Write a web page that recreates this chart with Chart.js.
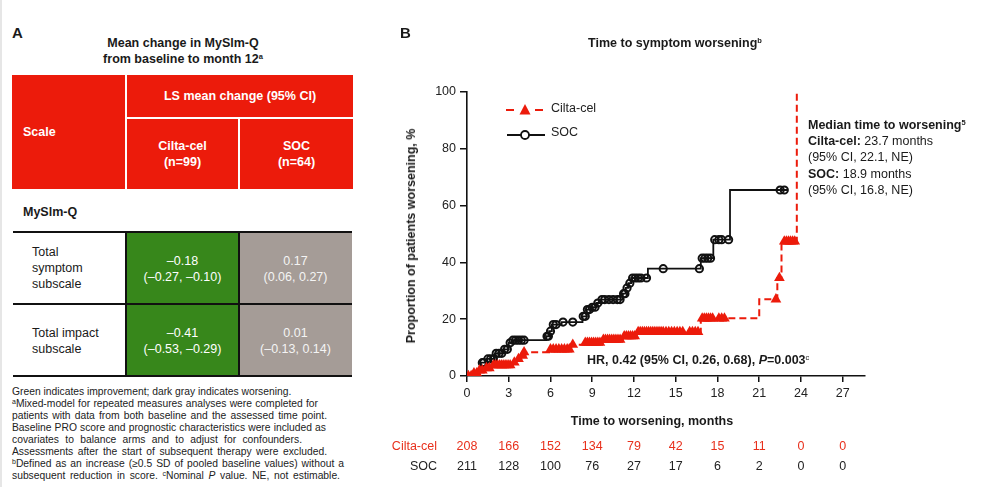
<!DOCTYPE html>
<html>
<head>
<meta charset="utf-8">
<script src="https://cdn.jsdelivr.net/npm/chart.js@4.4.1/dist/chart.umd.min.js"></script>
<style>
  body { margin: 0; width: 984px; height: 487px; overflow: hidden; background: #fff; position: relative;
         font-family: Arial, "Liberation Sans", sans-serif; color: #1a1a1a; }
  .edge { position: absolute; left: 0; top: 0; width: 2px; height: 487px; background: #e6e6e6; }
  .t { position: absolute; white-space: nowrap; line-height: 16px; font-size: 12.5px; }
  .c { transform: translate(-50%, -50%); text-align: center; }
  .b { font-weight: bold; }
  .sup { font-size: 7.5px; vertical-align: 4px; line-height: 0; }
  .cell { position: absolute; display: flex; align-items: center; justify-content: center; text-align: center;
          font-size: 12.5px; line-height: 16px; }
  .red { background: #ec1b0b; color: #fff; font-weight: bold; }
  .hl { position: absolute; height: 2px; background: #111; }
  .vl { position: absolute; width: 2px; background: #111; }
  .fn { position: absolute; left: 12px; font-size: 10.3px; line-height: 12px; text-align: justify; text-align-last: justify; color: #222; }
  .fs { font-size: 7px; vertical-align: 3px; line-height: 0; }
  #chartWrap { position: absolute; left: 380px; top: 0; width: 604px; height: 487px; }
</style>
</head>
<body>
<div class="edge"></div>

<!-- Panel A -->
<div class="t b" style="left:12px;top:25px;font-size:15px;">A</div>
<div class="t b c" style="left:183px;top:43px;">Mean change in MySlm-Q</div>
<div class="t b c" style="left:183px;top:59px;">from baseline to month 12<span class="sup">a</span></div>

<div class="cell red" style="left:12px;top:75px;width:113px;height:114px;justify-content:flex-start;padding-left:11px;box-sizing:border-box;">Scale</div>
<div class="cell red" style="left:127px;top:75px;width:226px;height:42px;">LS mean change (95% CI)</div>
<div class="cell red" style="left:127px;top:119px;width:111px;height:70px;">Cilta-cel<br>(n=99)</div>
<div class="cell red" style="left:240px;top:119px;width:113px;height:70px;">SOC<br>(n=64)</div>

<div class="t b" style="left:23px;top:204px;font-size:12.5px;">MySlm-Q</div>

<div class="cell" style="left:126px;top:233px;width:113px;height:71px;background:#37871b;color:#fff;">&ndash;0.18<br>(&ndash;0.27, &ndash;0.10)</div>
<div class="cell" style="left:239px;top:233px;width:113px;height:71px;background:#a59c97;color:#f4f4f4;">0.17<br>(0.06, 0.27)</div>
<div class="cell" style="left:126px;top:305px;width:113px;height:71px;background:#37871b;color:#fff;">&ndash;0.41<br>(&ndash;0.53, &ndash;0.29)</div>
<div class="cell" style="left:239px;top:305px;width:113px;height:71px;background:#a59c97;color:#f4f4f4;">0.01<br>(&ndash;0.13, 0.14)</div>
<div class="t" style="left:32px;top:244px;">Total<br>symptom<br>subscale</div>
<div class="t" style="left:32px;top:325px;">Total impact<br>subscale</div>
<div class="hl" style="left:13px;top:231px;width:339px;"></div>
<div class="hl" style="left:13px;top:303px;width:339px;"></div>
<div class="hl" style="left:13px;top:375px;width:339px;"></div>
<div class="vl" style="left:125px;top:232px;height:144px;"></div>
<div class="vl" style="left:238px;top:232px;height:144px;"></div>

<div class="fn" style="top:386px;white-space:nowrap;text-align:left;text-align-last:left;">Green indicates improvement; dark gray indicates worsening.</div>
<div class="fn" style="top:398px;width:306px;"><span class="fs">a</span>Mixed-model for repeated measures analyses were completed for</div>
<div class="fn" style="top:410px;width:315px;">patients with data from both baseline and the assessed time point.</div>
<div class="fn" style="top:422px;width:314px;">Baseline PRO score and prognostic characteristics were included as</div>
<div class="fn" style="top:434px;width:290px;">covariates to balance arms and to adjust for confounders.</div>
<div class="fn" style="top:446px;width:315px;">Assessments after the start of subsequent therapy were excluded.</div>
<div class="fn" style="top:458px;width:332px;"><span class="fs">b</span>Defined as an increase (&ge;0.5 SD of pooled baseline values) without a</div>
<div class="fn" style="top:470px;width:328px;">subsequent reduction in score. <span class="fs">c</span>Nominal <i>P</i> value. NE, not estimable.</div>

<!-- Panel B -->
<div id="chartWrap"><canvas id="km" width="604" height="487"></canvas></div>
<div class="t b" style="left:400px;top:25px;font-size:15px;">B</div>
<div class="t b c" style="left:675px;top:43px;">Time to symptom worsening<span class="sup">b</span></div>
<div class="t b c" style="left:411px;top:236px;transform:translate(-50%,-50%) rotate(-90deg);">Proportion of patients worsening, %</div>
<div class="t b c" style="left:652px;top:421px;">Time to worsening, months</div>
<div class="t b" style="left:587px;top:352px;">HR, 0.42 (95% CI, 0.26, 0.68), <i>P</i>=0.003<span class="sup" style="font-weight:normal">c</span></div>
<div class="t" style="left:808px;top:117px;line-height:16.2px;">
  <b>Median time to worsening<span class="sup">5</span></b><br>
  <b>Cilta-cel:</b> 23.7 months<br>
  (95% CI, 22.1, NE)<br>
  <b>SOC:</b> 18.9 months<br>
  (95% CI, 16.8, NE)
</div>

<script>
// Axis ticks and number-at-risk table
const xTicks = [0, 3, 6, 9, 12, 15, 18, 21, 24, 27];
const yTicks = [0, 20, 40, 60, 80, 100];
const riskCilta = [208, 166, 152, 134, 79, 42, 15, 11, 0, 0];
const riskSoc = [211, 128, 100, 76, 27, 17, 6, 2, 0, 0];

// Kaplan-Meier steps: [month, % worsening] at each event
const ciltaSteps = [
  [0, 0], [0.4, 1.0], [0.8, 2.0], [1.3, 2.8], [1.8, 3.8], [3.3, 4.8], [3.6, 6.0], [3.9, 7.2],
  [4.2, 8.4], [5.9, 9.4], [7.5, 11.0], [8.4, 11.7], [9.7, 12.8], [11.2, 14.0], [12.2, 15.5],
  [16.8, 20.3], [21.0, 27.0], [22.3, 34.5], [22.6, 47.4], [23.7, 100]
];
const socSteps = [
  [0, 0], [0.9, 2.0], [1.0, 4.7], [1.4, 6.0], [2.0, 8.0], [2.6, 9.4], [3.0, 11.7], [3.2, 12.6],
  [5.7, 14.0], [5.9, 15.8], [6.1, 18.1], [6.8, 19.0], [8.3, 21.0], [8.6, 23.4], [8.9, 24.2],
  [9.3, 25.7], [9.6, 26.9], [11.2, 29.0], [11.4, 31.0], [11.6, 32.7], [11.8, 34.5], [13.0, 37.8],
  [16.8, 41.5], [17.7, 48.0], [18.9, 65.5], [23.0, 65.5]
];

// Censored patients: [month, %]
const ciltaCensor = [
  [0.1, 0], [0.3, 0], [0.5, 1.0], [0.7, 1.0], [0.9, 2.0], [1.1, 2.0], [1.4, 2.8], [1.6, 2.8],
  [1.9, 3.8], [2.05, 3.8], [2.2, 3.8], [2.35, 3.8], [2.5, 3.8], [2.65, 3.8], [2.8, 3.8], [2.95, 3.8],
  [3.1, 3.8], [3.4, 4.8], [3.7, 6.0], [4.0, 7.2], [4.1, 8.4], [6.0, 9.4], [6.2, 9.4], [6.4, 9.4],
  [6.6, 9.4], [6.8, 9.4], [7.0, 9.4], [7.2, 9.4], [7.35, 9.4], [7.6, 11.0], [8.5, 11.7], [8.65, 11.7],
  [8.8, 11.7], [8.95, 11.7], [9.1, 11.7], [9.25, 11.7], [9.4, 11.7], [9.55, 11.7], [9.8, 12.8],
  [9.95, 12.8], [10.1, 12.8], [10.25, 12.8], [10.4, 12.8], [10.55, 12.8], [10.7, 12.8], [10.85, 12.8],
  [11.0, 12.8], [11.3, 14.0], [11.45, 14.0], [11.6, 14.0], [11.75, 14.0], [11.9, 14.0], [12.05, 14.0],
  [12.3, 15.5], [12.45, 15.5], [12.6, 15.5], [12.75, 15.5], [12.9, 15.5], [13.05, 15.5], [13.2, 15.5],
  [13.35, 15.5], [13.5, 15.5], [13.65, 15.5], [13.8, 15.5], [13.95, 15.5], [14.1, 15.5], [14.3, 15.5],
  [14.5, 15.5], [14.7, 15.5], [14.9, 15.5], [15.1, 15.5], [15.3, 15.5], [15.5, 15.5], [16.0, 15.5],
  [16.2, 15.5], [16.4, 15.5], [16.6, 15.5], [16.9, 20.3], [17.05, 20.3], [17.2, 20.3], [17.35, 20.3],
  [17.5, 20.3], [17.65, 20.3], [18.1, 20.3], [18.3, 20.3], [18.5, 20.3], [22.2, 27.0], [22.45, 34.5],
  [22.8, 47.4], [22.95, 47.4], [23.1, 47.4], [23.25, 47.4], [23.4, 47.4], [23.55, 47.4]
];
const socCensor = [
  [1.1, 4.7], [1.2, 4.7], [1.5, 6.0], [1.7, 6.0], [1.9, 6.0], [2.1, 8.0], [2.3, 8.0], [2.5, 8.0],
  [2.7, 9.4], [2.9, 9.4], [3.1, 11.7], [3.3, 12.6], [3.5, 12.6], [3.7, 12.6], [3.9, 12.6], [4.1, 12.6],
  [5.75, 14.0], [5.85, 14.0], [6.0, 15.8], [6.2, 18.1], [6.4, 18.1], [6.9, 19.0], [7.6, 19.0],
  [8.35, 21.0], [8.5, 21.0], [8.65, 23.4], [8.8, 23.4], [9.0, 24.2], [9.2, 24.2], [9.4, 25.7],
  [9.7, 26.9], [9.9, 26.9], [10.2, 26.9], [10.5, 26.9], [10.8, 26.9], [11.0, 26.9], [11.25, 29.0],
  [11.35, 29.0], [11.5, 31.0], [11.7, 32.7], [11.9, 34.5], [12.1, 34.5], [12.3, 34.5], [12.5, 34.5],
  [12.9, 34.5], [14.1, 37.8], [16.7, 37.8], [16.9, 41.5], [17.1, 41.5], [17.3, 41.5], [17.5, 41.5],
  [17.8, 48.0], [18.1, 48.0], [18.3, 48.0], [18.8, 48.0], [22.5, 65.5], [22.8, 65.5]
];

const RED = '#ec1b0b';
const FONT = 'Arial, "Liberation Sans", sans-serif';
const toXY = arr => arr.map(p => ({ x: p[0], y: p[1] }));

// Draws the legend and the number-at-risk rows
const extras = {
  id: 'extras',
  afterDraw(chart) {
    const ctx = chart.ctx;
    const xs = chart.scales.x;
    ctx.save();

    // legend
    ctx.strokeStyle = RED;
    ctx.lineWidth = 2;
    ctx.beginPath();
    ctx.moveTo(126, 110); ctx.lineTo(134, 110);
    ctx.moveTo(155, 110); ctx.lineTo(163, 110);
    ctx.stroke();
    ctx.fillStyle = RED;
    ctx.beginPath();
    ctx.moveTo(145, 104); ctx.lineTo(150.5, 114.5); ctx.lineTo(139.5, 114.5);
    ctx.closePath(); ctx.fill();

    ctx.strokeStyle = '#111';
    ctx.beginPath();
    ctx.moveTo(127, 135); ctx.lineTo(165, 135);
    ctx.stroke();
    ctx.fillStyle = '#fff';
    ctx.lineWidth = 1.8;
    ctx.beginPath();
    ctx.arc(145, 135, 4, 0, Math.PI * 2);
    ctx.fill(); ctx.stroke();

    ctx.font = '12.5px ' + FONT;
    ctx.fillStyle = '#222';
    ctx.textBaseline = 'middle';
    ctx.textAlign = 'left';
    ctx.fillText('Cilta-cel', 171, 109);
    ctx.fillText('SOC', 171, 133);

    // number at risk
    ctx.textAlign = 'right';
    ctx.fillStyle = '#e8301c';
    ctx.fillText('Cilta-cel', 57, 447);
    ctx.fillStyle = '#222';
    ctx.fillText('SOC', 57, 467);
    ctx.textAlign = 'center';
    xTicks.forEach((t, i) => {
      const px = xs.getPixelForValue(t);
      ctx.fillStyle = '#e8301c';
      ctx.fillText(String(riskCilta[i]), px, 447);
      ctx.fillStyle = '#222';
      ctx.fillText(String(riskSoc[i]), px, 467);
    });
    ctx.restore();
  }
};

new Chart(document.getElementById('km').getContext('2d'), {
  type: 'scatter',
  data: {
    datasets: [
      {
        label: 'SOC',
        data: toXY(socSteps),
        showLine: true,
        stepped: 'before',
        borderColor: '#111',
        borderWidth: 1.8,
        pointRadius: 0,
        fill: false,
        order: 3
      },
      {
        label: 'SOC censored',
        data: toXY(socCensor),
        showLine: false,
        pointStyle: 'circle',
        pointRadius: 3.6,
        pointBorderWidth: 2,
        pointBorderColor: '#111',
        pointBackgroundColor: 'rgba(255,255,255,0)',
        order: 2
      },
      {
        label: 'Cilta-cel',
        data: toXY(ciltaSteps),
        showLine: true,
        stepped: 'before',
        borderColor: RED,
        borderWidth: 2,
        borderDash: [7, 4],
        pointRadius: 0,
        fill: false,
        order: 1
      },
      {
        label: 'Cilta-cel censored',
        data: toXY(ciltaCensor),
        showLine: false,
        pointStyle: 'triangle',
        pointRadius: 6.2,
        pointBorderWidth: 0,
        pointBorderColor: RED,
        pointBackgroundColor: RED,
        order: 0
      }
    ]
  },
  options: {
    responsive: false,
    animation: false,
    events: [],
    layout: { padding: { top: 92, right: 119, left: 0, bottom: 81 } },
    plugins: { legend: { display: false }, tooltip: { enabled: false } },
    scales: {
      x: {
        type: 'linear',
        min: 0,
        max: 28.6,
        afterFit(s) { s.height = 30; },
        afterBuildTicks(s) { s.ticks = xTicks.map(v => ({ value: v })); },
        grid: { drawOnChartArea: false, drawTicks: true, tickLength: 6, color: '#111', lineWidth: 1.5 },
        border: { color: '#111', width: 1.6 },
        ticks: { color: '#222', font: { family: FONT, size: 12.5 }, padding: 4, maxRotation: 0, autoSkip: false }
      },
      y: {
        type: 'linear',
        min: 0,
        max: 100,
        afterFit(s) { s.width = 87; },
        afterBuildTicks(s) { s.ticks = yTicks.map(v => ({ value: v })); },
        grid: { drawOnChartArea: false, drawTicks: true, tickLength: 7, color: '#111', lineWidth: 1.5 },
        border: { color: '#111', width: 1.6 },
        ticks: { color: '#222', font: { family: FONT, size: 12.5 }, padding: 4 }
      }
    }
  },
  plugins: [extras]
});
</script>
</body>
</html>
